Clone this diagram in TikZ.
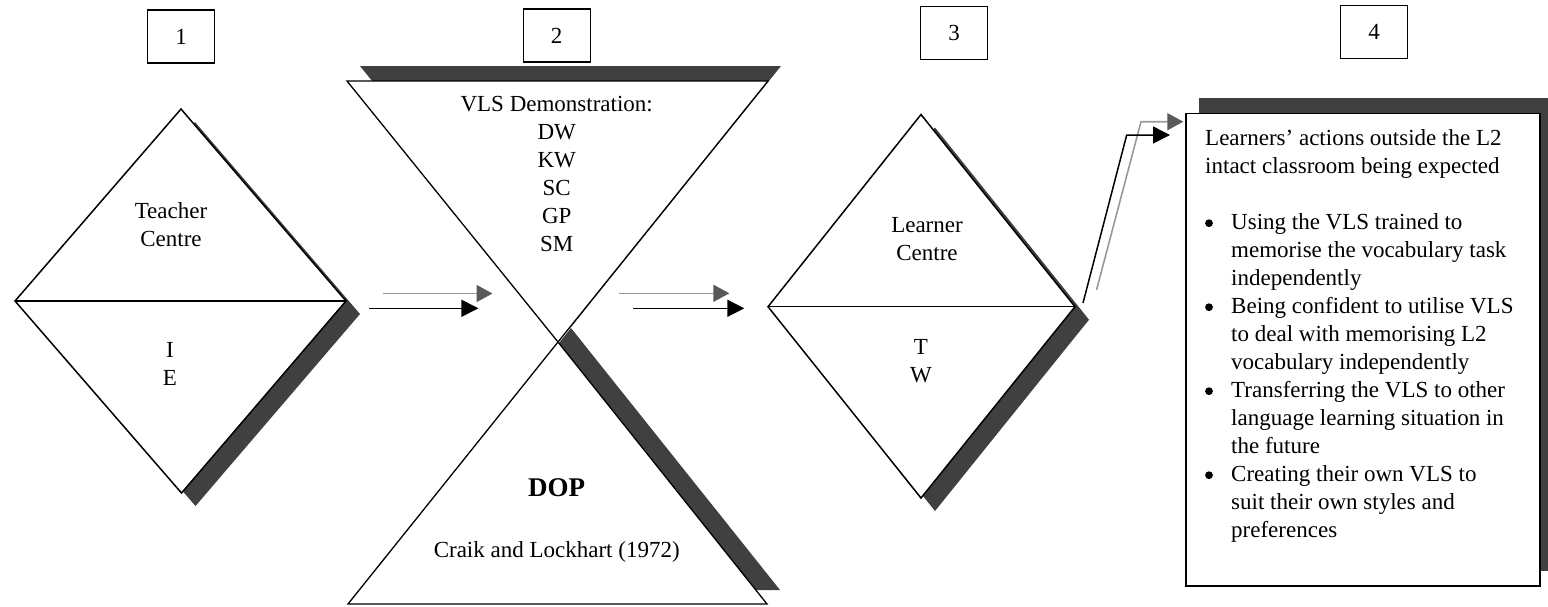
\documentclass[tikz,border=0pt]{standalone}
\usepackage{fontspec}
\setmainfont{Liberation Serif}
\usetikzlibrary{arrows.meta}
\newcommand\bitem[1]{\par\noindent\hangindent=26pt\hangafter=1\hspace*{26pt}#1\par}
\tikzset{
  shadowfill/.style={fill=black!75, draw=none},
  shapeline/.style={draw=black, line width=1.5pt, fill=white, line join=miter},
  numbox/.style={draw, line width=1.3pt, minimum width=67pt, minimum height=53pt, inner sep=0pt, font=\fontsize{23}{28}\selectfont},
  lbl/.style={inner sep=0pt, anchor=base, font=\fontsize{23}{28}\selectfont},
  bulletdot/.style={fill=black, draw=none},
  blackarrow/.style={draw=black, line width=1.5pt, -{Triangle[length=17pt,width=17pt]}},
  grayarrow/.style={draw=black!40, line width=1.6pt, -{Triangle[length=16pt,width=17pt,color=black!65]}},
}
\begin{document}
\begin{tikzpicture}[x=1pt,y=-1pt]
\useasboundingbox (0,0) rectangle (1548,606);
\fill[white] (0,0) rectangle (1548,606);

% number boxes
\node[numbox] (n1) at (181.1,36.5) {1};
\node[numbox] (n2) at (556.7,35.5) {2};
\node[numbox] (n3) at (954,33) {3};
\node[numbox] (n4) at (1374,31.8) {4};

% diamond 1
\coordinate (d1t) at (181,109);
\coordinate (d1l) at (15,301);
\coordinate (d1r) at (346,301);
\coordinate (d1b) at (181.5,493);
\fill[shadowfill] ([shift={(14,13)}]d1t) -- ([shift={(14,13)}]d1r) -- ([shift={(14,13)}]d1b) -- ([shift={(14,13)}]d1l) -- cycle;
\draw[shapeline] (d1t) -- (d1r) -- (d1b) -- (d1l) -- cycle;
\draw[line width=1.5pt] (d1l) -- (d1r);

% diamond 3
\coordinate (d3t) at (921,114.5);
\coordinate (d3l) at (768,306.7);
\coordinate (d3r) at (1075,306.7);
\coordinate (d3b) at (921,498);
\fill[shadowfill] ([shift={(14,13)}]d3t) -- ([shift={(14,13)}]d3r) -- ([shift={(14,13)}]d3b) -- ([shift={(14,13)}]d3l) -- cycle;
\draw[shapeline] (d3t) -- (d3r) -- (d3b) -- (d3l) -- cycle;
\draw[line width=1.5pt] (d3l) -- (d3r);

% hourglass
\coordinate (ht1) at (347,81);
\coordinate (ht2) at (768,81);
\coordinate (hx) at (558,342);
\coordinate (hb1) at (348,604);
\coordinate (hb2) at (767,604);
\fill[shadowfill] ([shift={(13,-15)}]ht1) -- ([shift={(13,-15)}]ht2) -- ([shift={(13,-15)}]hx) -- cycle;
\fill[shadowfill] ([shift={(13,-14)}]hx) -- ([shift={(13,-14)}]hb2) -- ([shift={(13,-14)}]hb1) -- cycle;
\draw[shapeline, line width=1.3pt] (hx) -- (hb2) -- (hb1) -- cycle;
\draw[shapeline, line width=1.3pt] (ht1) -- (ht2) -- (hx) -- cycle;

% box 4
\fill[shadowfill] (1199,98) rectangle (1553,571);
\draw[shapeline, line width=1.3pt] (1186,113.3) rectangle (1540,586);
\node[inner sep=0pt, anchor=base west, font=\fontsize{23}{28}\selectfont] (b4txt) at (1205,145.7) {%
\begin{minipage}[t]{335pt}\setlength{\parskip}{0pt}\setlength{\parindent}{0pt}%
Learners’ actions outside the L2\\
intact classroom being expected\par
\vspace{28pt}
\bitem{Using the VLS trained to\\memorise the vocabulary task\\independently}
\bitem{Being confident to utilise VLS\\to deal with memorising L2\\vocabulary independently}
\bitem{Transferring the VLS to other\\language learning situation in\\the future}
\bitem{Creating their own VLS to\\suit their own styles and\\preferences}
\end{minipage}};
\fill[bulletdot] (1209,223.2) circle (3.9);
\fill[bulletdot] (1209,307.2) circle (3.9);
\fill[bulletdot] (1209,391.2) circle (3.9);
\fill[bulletdot] (1209,475.2) circle (3.9);

% labels
\node[lbl] (tc) at (171,218.4) {\begin{tabular}[t]{@{}c@{}}Teacher\\Centre\end{tabular}};
\node[lbl] (ie) at (170,357.5) {\begin{tabular}[t]{@{}c@{}}I\\E\end{tabular}};
\node[lbl] (lc) at (927,232.6) {\begin{tabular}[t]{@{}c@{}}Learner\\Centre\end{tabular}};
\node[lbl] (tw) at (921,354.3) {\begin{tabular}[t]{@{}c@{}}T\\W\end{tabular}};
\node[lbl] (vls) at (556.7,111.7) {\begin{tabular}[t]{@{}c@{}}VLS Demonstration:\\DW\\KW\\SC\\GP\\SM\end{tabular}};
\node[lbl, font=\fontsize{27}{32}\selectfont\bfseries] (dop) at (556.7,496.7) {DOP};
\node[lbl] (craik) at (556.7,557.5) {Craik and Lockhart (1972)};

% arrows
\coordinate (a1gs) at (383,293.5);
\coordinate (a1ge) at (492.5,293.5);
\coordinate (a1bs) at (369,308.3);
\coordinate (a1be) at (478.4,308.3);
\coordinate (a2gs) at (619.3,293.3);
\coordinate (a2ge) at (729.3,293.3);
\coordinate (a2bs) at (633.3,308.3);
\coordinate (a2be) at (744.3,308.3);
\draw[grayarrow] (a1gs) -- (a1ge);
\draw[blackarrow] (a1bs) -- (a1be);
\draw[grayarrow] (a2gs) -- (a2ge);
\draw[blackarrow] (a2bs) -- (a2be);

\coordinate (e2s) at (1096.5,290);
\coordinate (e2c) at (1141,121.7);
\coordinate (e2e) at (1183.3,121.7);
\coordinate (e1s) at (1083,303);
\coordinate (e1c) at (1126.7,135);
\coordinate (e1e) at (1170,135);
\draw[grayarrow, line join=miter] (e2s) -- (e2c) -- (e2e);
\draw[blackarrow, line join=miter] (e1s) -- (e1c) -- (e1e);
\end{tikzpicture}
\end{document}
